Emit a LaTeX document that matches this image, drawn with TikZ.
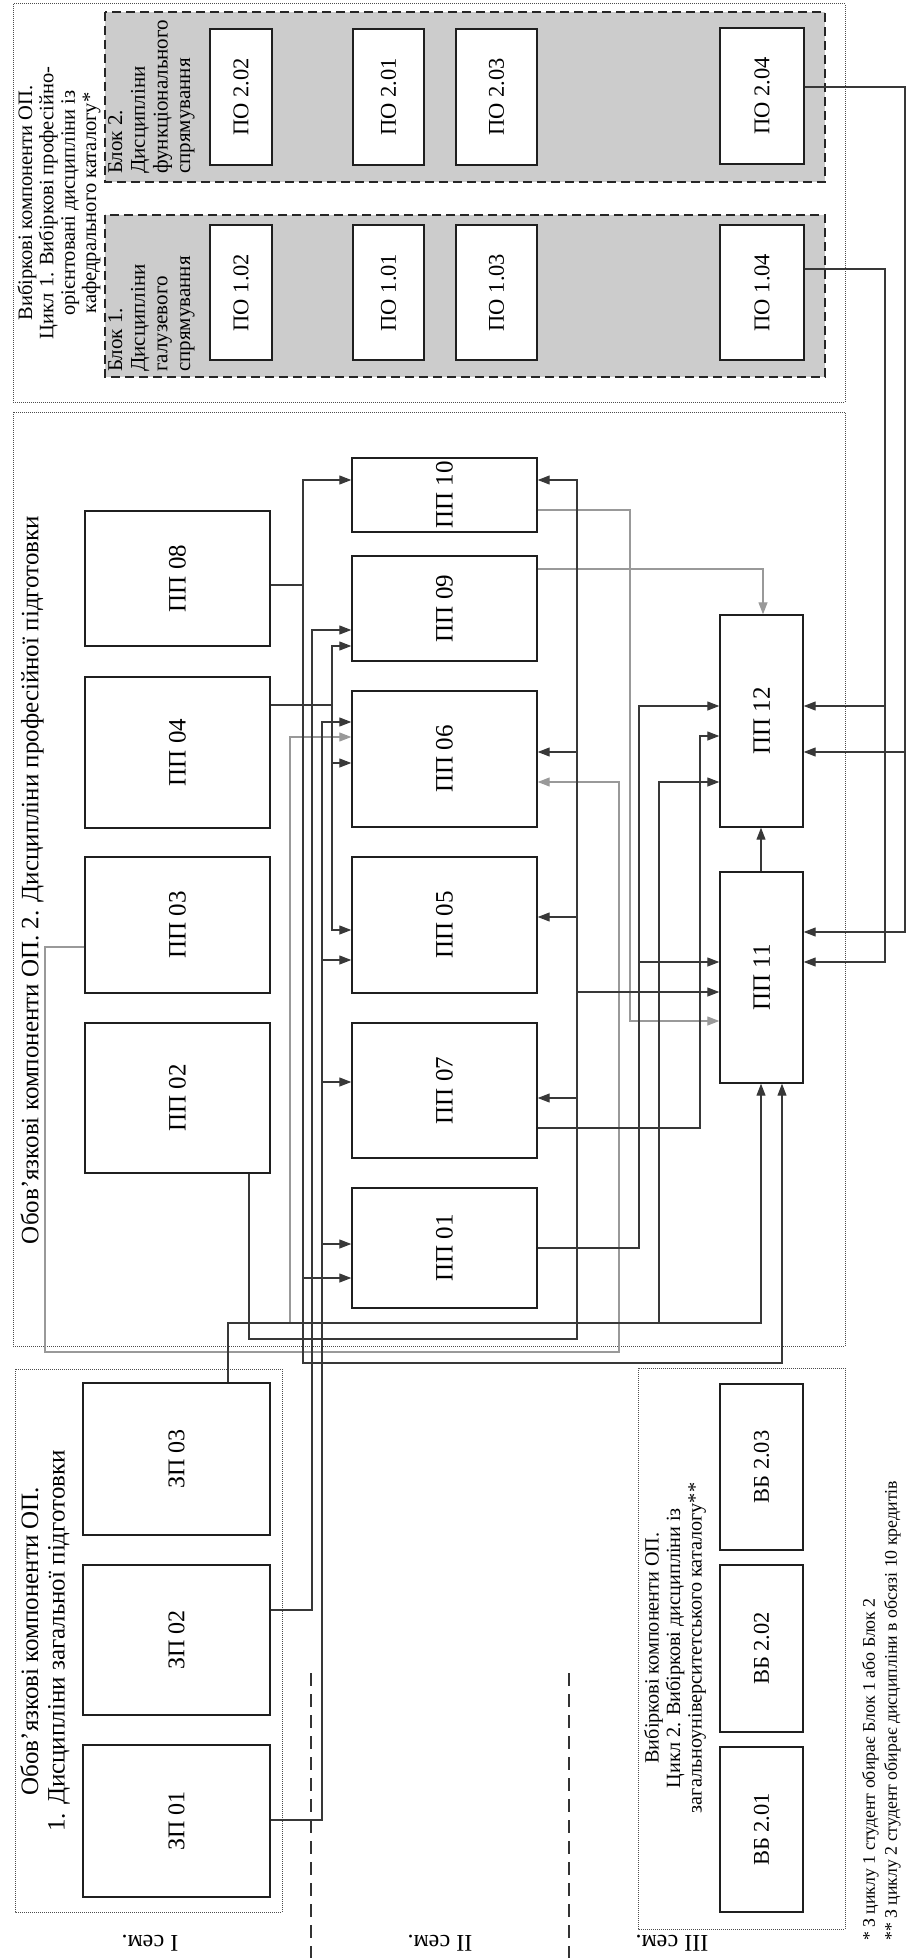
\documentclass[tikz,border=0pt]{standalone}
\usepackage{fontspec}
\setmainfont{Liberation Serif}
\usetikzlibrary{arrows.meta}
\newcommand\fsz[2]{\fontsize{#1}{#2}\selectfont\lineskiplimit=-30pt\lineskip=0pt}
\newcommand\mybox[7][]{\node[box,#1,minimum width={(#5-#3)*1pt},minimum height={(#6-#4)*1pt}] (#2) at ({(#3+#5)/2},{(#4+#6)/2}) {\rotatebox{90}{#7}};}
\begin{document}
\begin{tikzpicture}[x=1pt,y=-1pt,
  box/.style={draw=black!88,line width=1.4pt,fill=white,inner sep=0pt,font=\fsz{25}{25}},
  small/.style={font=\fsz{22.5}{22.5}},
  mid/.style={font=\fsz{24}{24}},
  conn/.style={draw=black!78,line width=1.2pt},
  gconn/.style={draw=black!40,line width=1.2pt},
  arr/.style={-{Triangle[length=12pt,width=9pt]}},
  grp/.style={draw=black!70,line width=1pt,dash pattern=on 1pt off 1pt},
  blk/.style={draw=black!85,line width=1.8pt,dash pattern=on 9pt off 5pt,fill=black!20},
  semline/.style={draw=black!80,line width=1.5pt,dash pattern=on 13pt off 8pt},
  ttl/.style={rotate=90,align=center,inner sep=0pt}]
\useasboundingbox (0,0) rectangle (915,1958);
% group frames
\draw[grp] (13,4) rectangle (845,402);
\draw[grp] (13,412) rectangle (845,1346);
\draw[grp] (15,1369) rectangle (282,1912);
\draw[grp] (638,1368) rectangle (845,1929);
\draw[blk] (105,12) rectangle (825,182);
\draw[blk] (105,215) rectangle (825,377);
% titles
\node[ttl,font=\fsz{20.5}{21.3}] (t1) at (59,203) {Вибіркові компоненти ОП.\\Цикл 1. Вибіркові професійно-\\орієнтовані дисципліни із\\кафедрального каталогу*};
\node[ttl,font=\fsz{25}{27}] (t2) at (32,880) {Обов'язкові компоненти ОП. 2. Дисципліни професійної підготовки};
\node[ttl,font=\fsz{25}{26.5}] (t3) at (45,1641) {Обов'язкові компоненти ОП.\\1. Дисципліни загальної підготовки};
\node[ttl,font=\fsz{20.2}{21.5}] (t4) at (675,1648) {Вибіркові компоненти ОП.\\Цикл 2. Вибіркові дисципліни із\\загальноуніверситетського каталогу**};
\node[rotate=90,anchor=north west,align=left,inner sep=0pt,font=\fsz{21}{22.7}] (tb2) at (108,174) {Блок 2.\\Дисципліни\\функціонального\\спрямування};
\node[rotate=90,anchor=north west,align=left,inner sep=0pt,font=\fsz{21}{22.7}] (tb1) at (108,372) {Блок 1.\\Дисципліни\\галузевого\\спрямування};
% ПО boxes
\mybox[small]{po202}{210}{29}{272}{165}{ПО 2.02}
\mybox[small]{po201}{353}{29}{424}{165}{ПО 2.01}
\mybox[small]{po203}{456}{29}{537}{165}{ПО 2.03}
\mybox[small]{po204}{720}{28}{804}{164}{ПО 2.04}
\mybox[small]{po102}{210}{225}{272}{360}{ПО 1.02}
\mybox[small]{po101}{353}{225}{424}{360}{ПО 1.01}
\mybox[small]{po103}{456}{225}{537}{360}{ПО 1.03}
\mybox[small]{po104}{720}{225}{804}{360}{ПО 1.04}
% ПП boxes
\mybox{pp08}{85}{511}{270}{646}{ПП 08}
\mybox{pp04}{85}{677}{270}{828}{ПП 04}
\mybox{pp03}{85}{857}{270}{993}{ПП 03}
\mybox{pp02}{85}{1023}{270}{1173}{ПП 02}
\mybox{pp10}{352}{458}{537}{532}{ПП 10}
\mybox{pp09}{352}{556}{537}{661}{ПП 09}
\mybox{pp06}{352}{691}{537}{827}{ПП 06}
\mybox{pp05}{352}{857}{537}{993}{ПП 05}
\mybox{pp07}{352}{1023}{537}{1158}{ПП 07}
\mybox{pp01}{352}{1188}{537}{1308}{ПП 01}
\mybox{pp12}{720}{615}{803}{827}{ПП 12}
\mybox{pp11}{720}{872}{803}{1083}{ПП 11}
% ЗП and ВБ boxes
\mybox[mid]{zp03}{83}{1383}{270}{1535}{ЗП 03}
\mybox[mid]{zp02}{83}{1565}{270}{1715}{ЗП 02}
\mybox[mid]{zp01}{83}{1745}{270}{1897}{ЗП 01}
\mybox[small]{vb203}{720}{1384}{803}{1550}{ВБ 2.03}
\mybox[small]{vb202}{720}{1565}{803}{1732}{ВБ 2.02}
\mybox[small]{vb201}{720}{1747}{803}{1912}{ВБ 2.01}
% connectors: grey ones first
\draw[gconn,arr] (pp03.west |- 0,947) -- (45,947) -- (45,1352) -- (619,1352) -- (619,782) -- (pp06.east |- 0,782);
\draw[gconn,arr] (pp10.east |- 0,510) -- (630,510) -- (630,1021) -- (pp11.west |- 0,1021);
\draw[gconn,arr] (pp09.east |- 0,569) -- (763,569) -- (pp12.north -| 763,0);
\draw[gconn,arr] (290,1323) -- (290,737) -- (pp06.west |- 0,737);
% ПП08
\draw[conn,arr] (pp08.east |- 0,585) -- (303,585) -- (303,480) -- (pp10.west |- 0,480);
\draw[conn,arr] (303,585) -- (303,1363) -- (782,1363) -- (pp11.south -| 782,0);
\draw[conn,arr] (303,1278) -- (pp01.west |- 0,1278);
% ПП04
\draw[conn,arr] (pp04.east |- 0,705) -- (332,705) -- (332,646) -- (pp09.west |- 0,646);
\draw[conn,arr] (332,705) -- (332,930) -- (pp05.west |- 0,930);
\draw[conn,arr] (332,763) -- (pp06.west |- 0,763);
% ЗП02
\draw[conn,arr] (zp02.east |- 0,1610) -- (312,1610) -- (312,630) -- (pp09.west |- 0,630);
% ЗП01
\draw[conn,arr] (zp01.east |- 0,1820) -- (322,1820) -- (322,722) -- (pp06.west |- 0,722);
\draw[conn,arr] (322,960) -- (pp05.west |- 0,960);
\draw[conn,arr] (322,1082) -- (pp07.west |- 0,1082);
\draw[conn,arr] (322,1244) -- (pp01.west |- 0,1244);
% ЗП03
\draw[conn,arr] (zp03.north -| 228,0) -- (228,1323) -- (761,1323) -- (pp11.south -| 761,0);
\draw[conn,arr] (659,1323) -- (659,782) -- (pp12.west |- 0,782);
% ПП02
\draw[conn,arr] (pp02.south -| 249,0) -- (249,1339) -- (577,1339) -- (577,480) -- (pp10.east |- 0,480);
\draw[conn,arr] (577,752) -- (pp06.east |- 0,752);
\draw[conn,arr] (577,917) -- (pp05.east |- 0,917);
\draw[conn,arr] (577,1098) -- (pp07.east |- 0,1098);
\draw[conn,arr] (577,992) -- (pp11.west |- 0,992);
% ПП01
\draw[conn,arr] (pp01.east |- 0,1248) -- (639,1248) -- (639,706) -- (pp12.west |- 0,706);
\draw[conn,arr] (639,962) -- (pp11.west |- 0,962);
% ПП07
\draw[conn,arr] (pp07.east |- 0,1128) -- (700,1128) -- (700,736) -- (pp12.west |- 0,736);
% ПП11 -> ПП12
\draw[conn,arr] (pp11.north -| 761,0) -- (pp12.south -| 761,0);
% ПО 2.04 and ПО 1.04
\draw[conn,arr] (po204.east |- 0,87) -- (905,87) -- (905,932) -- (pp11.east |- 0,932);
\draw[conn,arr] (905,752) -- (pp12.east |- 0,752);
\draw[conn,arr] (po104.east |- 0,269) -- (885,269) -- (885,962) -- (pp11.east |- 0,962);
\draw[conn,arr] (885,706) -- (pp12.east |- 0,706);
% semester separators and labels
\draw[semline] (311,1673) -- (311,1958);
\draw[semline] (569,1673) -- (569,1958);
\node[rotate=180,font=\fsz{24}{24}] (s1) at (150,1943) {I сем.};
\node[rotate=180,font=\fsz{24}{24}] (s2) at (440,1943) {II сем.};
\node[rotate=180,font=\fsz{24}{24}] (s3) at (672,1943) {III сем.};
% footnotes
\node[rotate=90,anchor=north west,align=left,inner sep=0pt,font=\fsz{17.8}{22}] (fn) at (862,1941) {* З циклу 1 студент обирає Блок 1 або Блок 2\\** З циклу 2 студент обирає дисципліни в обсязі 10 кредитів};
\end{tikzpicture}
\end{document}
